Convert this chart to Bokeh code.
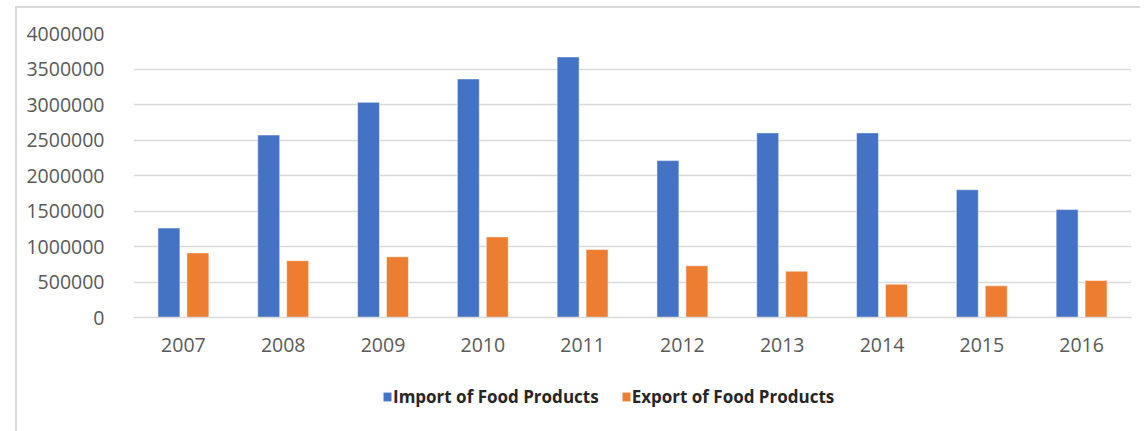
from bokeh.plotting import figure
from bokeh.layouts import column
from bokeh.models import ColumnDataSource, FactorRange, Range1d, SingleIntervalTicker, BasicTickFormatter, Legend, LegendItem
from bokeh.transform import dodge
from bokeh.embed import file_html
from bokeh.resources import INLINE

years = ['2007', '2008', '2009', '2010', '2011', '2012', '2013', '2014', '2015', '2016']
imports = [1260000, 2570000, 3030000, 3360000, 3670000, 2210000, 2600000, 2600000, 1800000, 1520000]
exports = [910000, 800000, 855000, 1135000, 958000, 728000, 652000, 469000, 446000, 521000]
series_names = ['Import of Food Products', 'Export of Food Products']
colors = ['#4472C4', '#ED7D31']

src = ColumnDataSource(dict(year=years, imp=imports, exp=exports))

W = 1123
p = figure(width=W, height=377, x_range=FactorRange(factors=years), y_range=Range1d(0, 4000000),
           output_backend="svg", toolbar_location=None, tools="",
           min_border_left=116, min_border_right=9, min_border_top=25, min_border_bottom=68)
p.outline_line_color = None
p.background_fill_color = "white"
p.border_fill_color = "white"

bar_kw = dict(width=0.22, source=src, line_color="#ffffff", line_alpha=0.5, line_width=1)
r1 = p.vbar(x=dodge('year', -0.145, range=p.x_range), top='imp', fill_color=colors[0], **bar_kw)
r2 = p.vbar(x=dodge('year', 0.145, range=p.x_range), top='exp', fill_color=colors[1], **bar_kw)

p.xgrid.grid_line_color = None
p.ygrid.grid_line_color = "#d9d9d9"
p.ygrid.grid_line_width = 1.5
p.ygrid.ticker = SingleIntervalTicker(interval=500000)

p.yaxis.ticker = SingleIntervalTicker(interval=500000)
p.yaxis.formatter = BasicTickFormatter(use_scientific=False)
p.yaxis.axis_line_color = None
p.yaxis.major_tick_line_color = None
p.yaxis.minor_tick_line_color = None
p.yaxis.major_label_standoff = 23
p.yaxis.major_label_text_font = "Open Sans"
p.yaxis.major_label_text_font_size = "19.5px"
p.yaxis.major_label_text_color = "#595959"

p.xaxis.axis_line_color = "#d9d9d9"
p.xaxis.axis_line_width = 1.5
p.xaxis.major_tick_line_color = None
p.xaxis.minor_tick_line_color = None
p.xaxis.major_label_standoff = 14
p.xaxis.major_label_text_font = "Open Sans"
p.xaxis.major_label_text_font_size = "19.5px"
p.xaxis.major_label_text_color = "#595959"

# legend strip below the chart: the same bars, drawn far below its visible
# y range, serve only as legend proxies
p2 = figure(width=W, height=46, x_range=FactorRange(factors=years), y_range=Range1d(5e6, 6e6),
            output_backend="svg", toolbar_location=None, tools="",
            min_border_left=116, min_border_right=9, min_border_top=0, min_border_bottom=0)
p2.axis.visible = False
p2.grid.visible = False
p2.outline_line_color = None
p2.border_fill_color = "white"
g1 = p2.vbar(x=dodge('year', -0.145, range=p2.x_range), top='imp', fill_color=colors[0],
             width=0.22, source=src, line_color=None)
g2 = p2.vbar(x=dodge('year', 0.145, range=p2.x_range), top='exp', fill_color=colors[1],
             width=0.22, source=src, line_color=None)

legend = Legend(items=[LegendItem(label=series_names[0], renderers=[g1]),
                       LegendItem(label=series_names[1], renderers=[g2])],
                orientation="horizontal", location=(249, 23),
                glyph_width=10, glyph_height=11, label_standoff=1, spacing=22, label_height=20,
                label_text_font="Open Sans", label_text_font_style="bold",
                label_text_font_size="17px", label_text_color="#262626",
                border_line_color=None, background_fill_alpha=0, margin=0, padding=0)
p2.add_layout(legend, "center")

layout = column(p, p2, spacing=0, margin=(6, 0, 0, 15),
                styles={"border-left": "2px solid #d9d9d9", "border-top": "2px solid #d9d9d9"})
open("out.html", "w").write(file_html(layout, INLINE))
